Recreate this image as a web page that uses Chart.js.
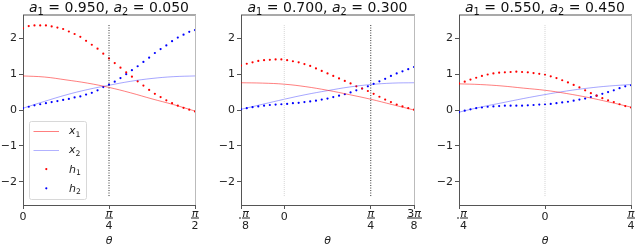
<!doctype html>
<html>
<head>
<meta charset="utf-8">
<title>theta sweep</title>
<script src="https://cdn.jsdelivr.net/npm/chart.js@4/dist/chart.umd.min.js"></script>
<style>
  body { margin: 0; background: #fff; }
  canvas { position: absolute; top: 0; }
</style>
</head>
<body>
<canvas id="c0" width="212" height="246" style="left:0px"></canvas>
<canvas id="c1" width="212" height="246" style="left:212px"></canvas>
<canvas id="c2" width="212" height="246" style="left:424px"></canvas>
<script>
// panel parameters
var a1 = [0.950, 0.700, 0.550];
var a2 = [0.050, 0.300, 0.450];

// theta in degrees, sampled points (h1, h2)
var thetaDots = [
  [0,3,6,9,12,15,18,21,24,27,30,33,36,39,42,45,48,51,54,57,60,63,66,69,72,75,78,81,84,87,90],
  [-22.5,-19.5,-16.5,-13.5,-10.5,-7.5,-4.5,-1.5,1.5,4.5,7.5,10.5,13.5,16.5,19.5,22.5,25.5,28.5,31.5,34.5,37.5,40.5,43.5,46.5,49.5,52.5,55.5,58.5,61.5,64.5,67.5],
  [-45,-42,-39,-36,-33,-30,-27,-24,-21,-18,-15,-12,-9,-6,-3,0,3,6,9,12,15,18,21,24,27,30,33,36,39,42,45]
];
var h1 = [
  [2.28,2.34,2.36,2.36,2.36,2.33,2.30,2.26,2.19,2.12,2.04,1.93,1.82,1.71,1.57,1.44,1.31,1.18,1.05,0.93,0.80,0.68,0.56,0.45,0.36,0.27,0.19,0.12,0.06,0.01,-0.04],
  [1.24,1.29,1.33,1.37,1.39,1.40,1.41,1.41,1.39,1.36,1.33,1.28,1.23,1.16,1.09,1.02,0.95,0.88,0.81,0.74,0.66,0.60,0.53,0.45,0.37,0.29,0.22,0.15,0.10,0.05,0.01],
  [0.74,0.79,0.85,0.90,0.95,0.99,1.02,1.04,1.05,1.06,1.07,1.06,1.05,1.03,1.01,0.98,0.94,0.89,0.83,0.77,0.70,0.63,0.55,0.47,0.40,0.33,0.27,0.22,0.16,0.11,0.07]
];
var h2 = [
  [0.05,0.09,0.13,0.16,0.19,0.22,0.25,0.28,0.31,0.35,0.38,0.43,0.48,0.55,0.64,0.71,0.79,0.89,1.00,1.11,1.22,1.34,1.46,1.59,1.70,1.80,1.92,2.02,2.10,2.18,2.23],
  [0.02,0.05,0.08,0.10,0.12,0.14,0.15,0.16,0.17,0.19,0.20,0.22,0.24,0.26,0.29,0.32,0.36,0.40,0.44,0.49,0.55,0.60,0.66,0.73,0.80,0.87,0.95,1.02,1.08,1.14,1.20],
  [-0.06,-0.02,0.02,0.05,0.07,0.09,0.10,0.11,0.12,0.12,0.12,0.12,0.13,0.14,0.15,0.16,0.17,0.19,0.21,0.23,0.26,0.29,0.32,0.36,0.40,0.45,0.50,0.55,0.61,0.66,0.69]
];

// theta in degrees for the solid curves (x1, x2)
var thetaLines = [
  [0,11.25,22.5,33.75,45,56.25,67.5,78.75,90],
  [-22.5,-11.25,0,11.25,22.5,33.75,45,56.25,67.5],
  [-45,-33.75,-22.5,-11.25,0,11.25,22.5,33.75,45]
];
var x1 = [
  [0.95,0.92,0.84,0.75,0.63,0.48,0.31,0.15,-0.03],
  [0.76,0.75,0.72,0.65,0.55,0.43,0.30,0.15,0.00],
  [0.73,0.71,0.67,0.61,0.55,0.46,0.35,0.22,0.08]
];
var x2 = [
  [0.05,0.24,0.42,0.57,0.69,0.80,0.88,0.93,0.95],
  [0.02,0.16,0.30,0.43,0.54,0.64,0.71,0.75,0.76],
  [-0.06,0.08,0.20,0.32,0.43,0.53,0.61,0.67,0.71]
];

// vertical guides
var guideDark = [[45], [45], []];
var guideLight = [[], [0], [0]];
var guideSpan = [-2.4, 2.4];

// axes
var xRange = [[0, 90], [-22.5, 67.5], [-45, 45]];
var xTicks = [[0, 45, 90], [-22.5, 0, 45, 67.5], [-45, 0, 45]];
var xTickLabels = [['0', 'π/4', 'π/2'], ['-π/8', '0', 'π/4', '3π/8'], ['-π/4', '0', 'π/4']];
var yTicks = [-2, -1, 0, 1, 2];
var yRange = [-2.65, 2.65];

var FONT = '"DejaVu Sans"';
var leftW = [23, 29, 35];
var rightPad = [17, 10, 5];

function rich(ctx, parts, x, y, size, align) {
  var w = 0;
  var items = parts.map(function (p) {
    var fs = p.sub ? size * 0.7 : size;
    ctx.font = (p.it ? 'italic ' : '') + fs + 'px ' + FONT;
    var pw = ctx.measureText(p.t).width;
    w += pw;
    return { t: p.t, font: ctx.font, pw: pw, dy: p.sub ? size * 0.22 : 0 };
  });
  var cx = align === 'center' ? x - w / 2 : x;
  ctx.textAlign = 'left';
  ctx.textBaseline = 'alphabetic';
  items.forEach(function (it) {
    ctx.font = it.font;
    ctx.fillText(it.t, cx, y + it.dy);
    cx += it.pw;
  });
}

function piParts(s) {
  // '3π' -> upright 3 + italic π
  var out = [];
  for (var i = 0; i < s.length; i++) out.push({ t: s[i], it: s[i] === 'π' });
  return out;
}
function partsWidth(ctx, parts, size) {
  var w = 0;
  parts.forEach(function (p) {
    ctx.font = (p.it ? 'italic ' : '') + size + 'px ' + FONT;
    w += ctx.measureText(p.t).width;
  });
  return w;
}

function drawTick(ctx, x, label) {
  var size = 11;
  ctx.fillStyle = '#222';
  if (label.indexOf('/') < 0) {
    rich(ctx, [{ t: label }], x, 219.5, size, 'center');
    return;
  }
  var neg = label[0] === '-';
  var s = neg ? label.slice(1) : label;
  var num = piParts(s.split('/')[0]);
  var den = [{ t: s.split('/')[1] }];
  var nw = partsWidth(ctx, num, size), dw = partsWidth(ctx, den, size);
  var bw = Math.max(nw, dw) + 1;
  var cx = neg ? x + bw / 2 + 0.5 : x;
  var barY = 218;
  rich(ctx, num, cx, barY - 1.5, size, 'center');
  rich(ctx, den, cx, barY + 10.5, size, 'center');
  ctx.fillRect(Math.round(cx - bw / 2), barY - 0.5, Math.round(bw), 1);
  if (neg) ctx.fillRect(Math.round(cx - bw / 2) - 3, barY - 0.5, 2, 1);
}

function makeChart(i) {
  var dark = guideDark[i].map(function (v) {
    return { data: [{ x: v, y: guideSpan[0] }, { x: v, y: guideSpan[1] }],
      borderColor: '#333', borderWidth: 1, borderDash: [1, 1.5], pointRadius: 0 };
  });
  var light = guideLight[i].map(function (v) {
    return { data: [{ x: v, y: guideSpan[0] }, { x: v, y: guideSpan[1] }],
      borderColor: '#d4d4d4', borderWidth: 1, borderDash: [1, 1], pointRadius: 0 };
  });
  var datasets = light.concat(dark).concat([
    { data: thetaLines[i].map(function (t, k) { return { x: t, y: x1[i][k] }; }),
      borderColor: 'rgba(255,0,0,0.5)', borderWidth: 1, pointRadius: 0, tension: 0.4 },
    { data: thetaLines[i].map(function (t, k) { return { x: t, y: x2[i][k] }; }),
      borderColor: 'rgba(0,0,255,0.35)', borderWidth: 1, pointRadius: 0, tension: 0.4 },
    { data: thetaDots[i].map(function (t, k) { return { x: t, y: h1[i][k] }; }),
      showLine: false, pointRadius: 1.1, pointBorderWidth: 0, pointBackgroundColor: '#ff0000' },
    { data: thetaDots[i].map(function (t, k) { return { x: t, y: h2[i][k] }; }),
      showLine: false, pointRadius: 1.1, pointBorderWidth: 0, pointBackgroundColor: '#0000ff' }
  ]);

  var deco = {
    id: 'deco',
    afterDraw: function (chart) {
      var ctx = chart.ctx, a = chart.chartArea, sx = chart.scales.x;
      ctx.save();
      // top and right frame
      ctx.fillStyle = '#555';
      ctx.fillRect(a.left, a.top - 0.5, a.right - a.left + 1, 1);
      ctx.fillStyle = '#bbb';
      ctx.fillRect(Math.round(a.right), a.top, 1, a.bottom - a.top);
      // title
      ctx.fillStyle = '#111';
      rich(ctx, [{ t: 'a', it: 1 }, { t: '1', sub: 1 }, { t: ' = ' + a1[i].toFixed(3) + ', ' },
        { t: 'a', it: 1 }, { t: '2', sub: 1 }, { t: ' = ' + a2[i].toFixed(3) }],
        (a.left + a.right) / 2, 11.5, 14, 'center');
      // x tick labels
      xTicks[i].forEach(function (v, k) { drawTick(ctx, sx.getPixelForValue(v), xTickLabels[i][k]); });
      // axis label
      ctx.fillStyle = '#222';
      rich(ctx, [{ t: 'θ', it: 1 }], (a.left + a.right) / 2, 243.5, 11, 'center');
      if (i === 0) drawLegend(ctx);
      ctx.restore();
    }
  };

  return new Chart(document.getElementById('c' + i), {
    type: 'line',
    data: { datasets: datasets },
    plugins: [deco],
    options: {
      responsive: false,
      animation: false,
      events: [],
      layout: { padding: { left: 0, right: rightPad[i], top: 15, bottom: 0 } },
      plugins: { legend: { display: false }, tooltip: { enabled: false } },
      scales: {
        x: {
          type: 'linear', min: xRange[i][0], max: xRange[i][1],
          afterBuildTicks: function (s) { s.ticks = xTicks[i].map(function (v) { return { value: v }; }); },
          afterFit: function (s) { s.height = 41; },
          ticks: { callback: function () { return ''; }, autoSkip: false, maxRotation: 0 },
          grid: { drawOnChartArea: false, drawTicks: true, tickLength: 4, tickColor: '#555', color: '#555' },
          border: { color: '#555', width: 1 }
        },
        y: {
          min: yRange[0], max: yRange[1],
          afterBuildTicks: function (s) { s.ticks = yTicks.map(function (v) { return { value: v }; }); },
          afterFit: function (s) { s.width = leftW[i]; },
          ticks: {
            padding: 2, color: '#222', font: { family: 'DejaVu Sans', size: 11 },
            callback: function (v) { return v < 0 ? '\u2212' + (-v) : '' + v; }
          },
          grid: { drawOnChartArea: false, drawTicks: true, tickLength: 4, tickColor: '#555', color: '#555' },
          border: { color: '#555', width: 1 }
        }
      }
    }
  });
}

var legendItems = [
  { sym: 'x', sub: '1', kind: 'line', color: 'rgba(255,0,0,0.5)' },
  { sym: 'x', sub: '2', kind: 'line', color: 'rgba(0,0,255,0.3)' },
  { sym: 'h', sub: '1', kind: 'dot', color: '#ff0000' },
  { sym: 'h', sub: '2', kind: 'dot', color: '#0000ff' }
];
function drawLegend(ctx) {
  var bx = 29.5, by = 121.5, bw = 57, bh = 78;
  ctx.fillStyle = 'rgba(255,255,255,0.85)';
  ctx.strokeStyle = '#d8d8d8';
  ctx.lineWidth = 1;
  ctx.beginPath();
  ctx.roundRect(bx, by, bw, bh, 2);
  ctx.fill();
  ctx.stroke();
  legendItems.forEach(function (it, k) {
    var y = 130.7 + k * 19.2;
    if (it.kind === 'line') {
      ctx.strokeStyle = it.color;
      ctx.beginPath();
      ctx.moveTo(33.5, Math.round(y) + 0.5);
      ctx.lineTo(59, Math.round(y) + 0.5);
      ctx.stroke();
    } else {
      ctx.fillStyle = it.color;
      ctx.beginPath();
      ctx.arc(46.3, y, 1.1, 0, Math.PI * 2);
      ctx.fill();
    }
    ctx.fillStyle = '#222';
    rich(ctx, [{ t: it.sym, it: 1 }, { t: it.sub, sub: 1 }], 69, y + 3.5, 11, 'left');
  });
}

for (var i = 0; i < 3; i++) makeChart(i);
</script>
</body>
</html>
